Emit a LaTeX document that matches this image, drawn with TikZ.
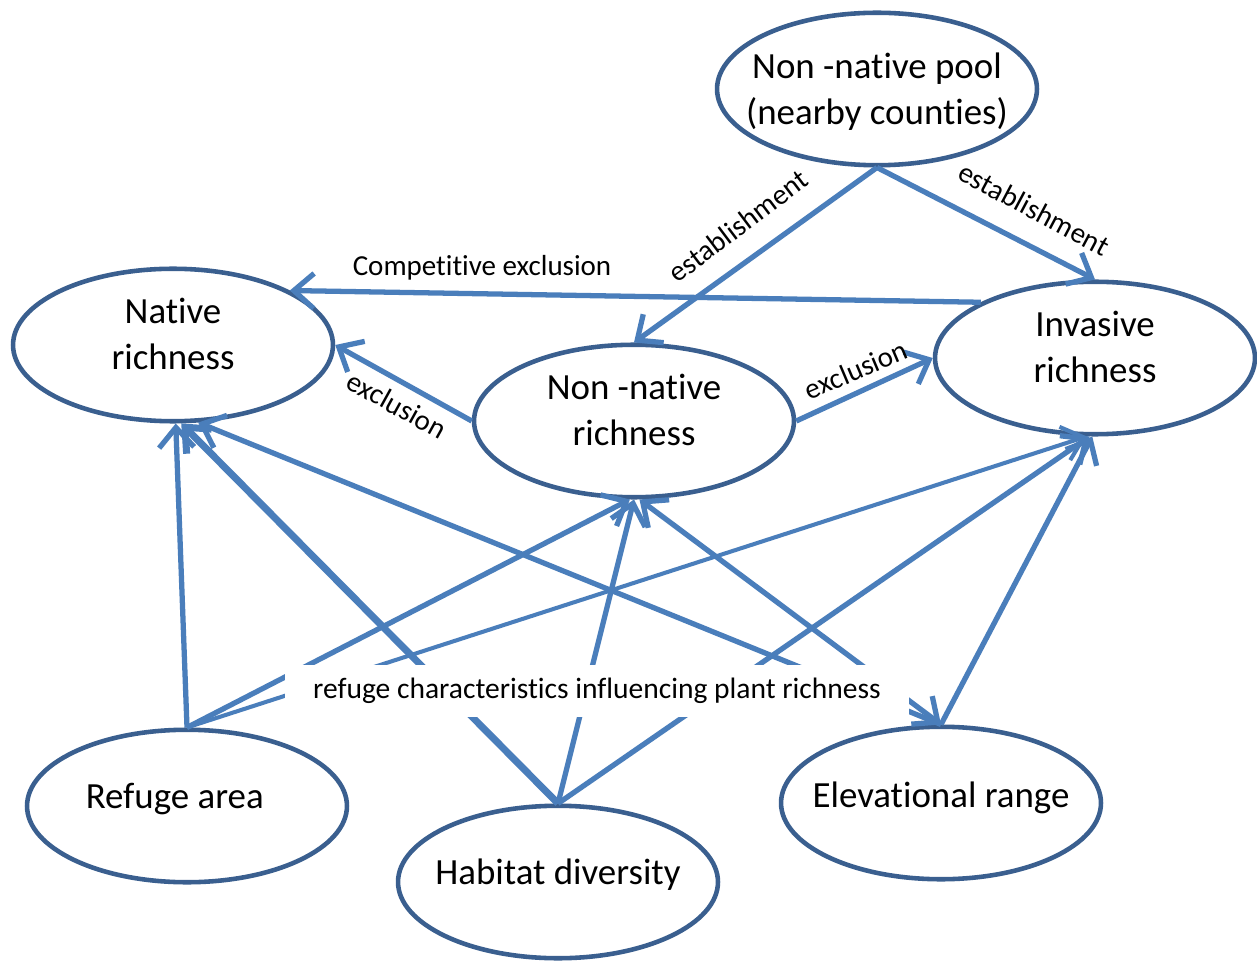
\documentclass[tikz,border=0pt]{standalone}
\usepackage{fontspec}
\setmainfont{Carlito}[Ligatures=NoCommon]
\usetikzlibrary{arrows.meta,shapes.geometric}
\definecolor{linkblue}{HTML}{4A7EBB}
\definecolor{rimblue}{HTML}{3A5F8F}
\tikzset{
    factor/.style = {
        draw = rimblue,
        line width = 2.6pt,
        ellipse,
        fill = white,
        minimum width = 6.4cm,
        minimum height = 3.05cm,
        inner xsep = -1.6cm,
        inner ysep = -0.6cm,
        align = center,
        font = \fontsize{21}{26}\selectfont,
        },
    link/.style = {
        draw = linkblue,
        line width = 3pt,
        },
    link thin/.style = {
        draw = linkblue,
        line width = 2.3pt,
        },
    link thick/.style = {
        draw = linkblue,
        line width = 4pt,
        },
    tag/.style = {
        font = \fontsize{16.5}{20}\selectfont,
        inner sep = 1pt,
        },
}
\begin{document}
\begin{tikzpicture}[x=0.02cm, y=-0.02cm, >={Straight Barb[length=4mm,width=7mm]}, ->]
            \fill[white] (0,0) rectangle (1257,962);
            \useasboundingbox (0,0) rectangle (1257,962);

            \node[factor, text depth=0pt] (pool) at (877,89) {Non -native pool\\(nearby counties)};
            \node[factor, text depth=12.4pt] (native) at (173,345) {Native\\richness};
            \node[factor, text depth=12.4pt] (nonnative) at (634,421) {Non -native\\richness};
            \node[factor, text depth=12.4pt] (invasive) at (1095,358) {Invasive\\richness};
            \node[factor, text depth=11.3pt] (refuge) at (187,806) {Refuge area\hspace*{14pt}};
            \node[factor, text depth=11.3pt] (habitat) at (558,882) {Habitat diversity};
            \node[factor, text depth=9.1pt] (elevation) at (941,803) {Elevational range};

            \path (pool.south) edge[link] (nonnative.north);
            \path (pool.south) edge[link] (invasive.north);
            \path (invasive.154) edge[link] (native.25);
            \path (nonnative.west) edge[link] (native.east);
            \path (nonnative.east) edge[link] (invasive.west);

            \path (refuge.north) edge[link] (native.-88);
            \path (refuge.north) edge[link] (nonnative.-93);
            \path (refuge.north) edge[link thin] (invasive.-96);
            \path (habitat.north) edge[link thick] (native.-84);
            \path (habitat.north) edge[link] (nonnative.-90);
            \path (habitat.north) edge[link] (invasive.-94);
            \path (elevation.north) edge[link] (native.-72);
            \path (elevation.north) edge[link, <->] (nonnative.-86);
            \path (elevation.north) edge[link] (invasive.-92);

            \node[tag] (compex) at (482,268) {Competitive exclusion};
            \node[tag, rotate=37] (estabL) at (738,226) {establishment};
            \node[tag, rotate=-28] (estabR) at (1034,209) {establishment};
            \node[tag, rotate=-29] (exclL) at (397,405) {exclusion};
            \node[tag, rotate=23] (exclR) at (856,370) {exclusion};
            \node[tag, fill=white, font=\fontsize{16.8}{20}\selectfont, minimum width=12.5cm, minimum height=1.04cm] (note) at (597,691) {refuge characteristics influencing plant richness};
        \end{tikzpicture}
\end{document}
